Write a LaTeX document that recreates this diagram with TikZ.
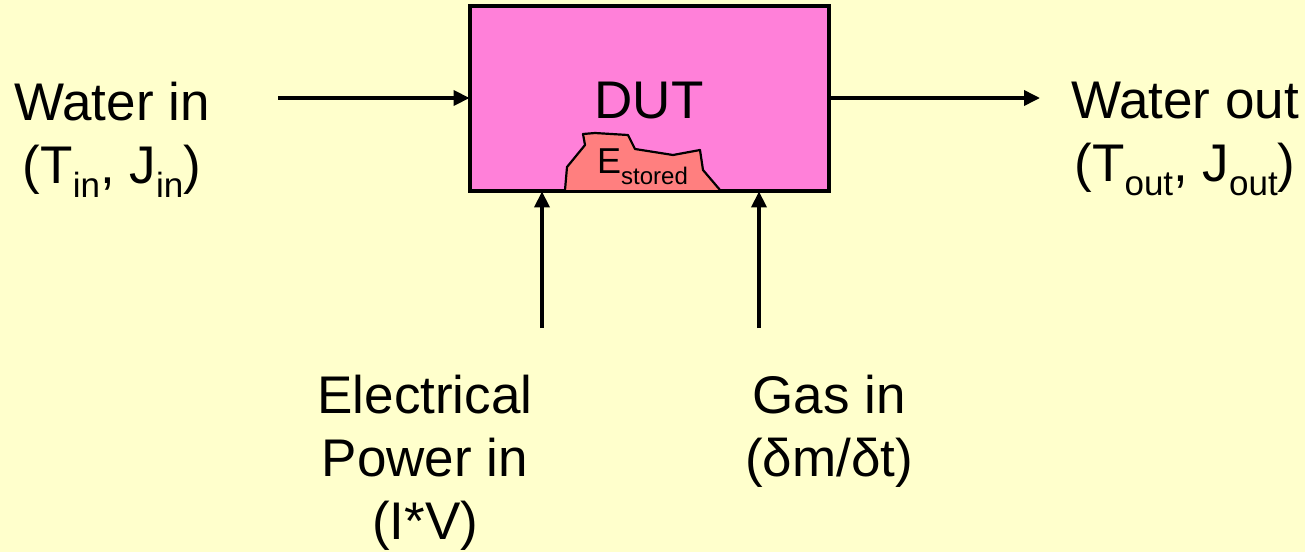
\documentclass[tikz,border=0pt]{standalone}
\usepackage{fontspec}
\setmainfont{Liberation Sans}
\usetikzlibrary{arrows.meta}
\definecolor{bgyellow}{RGB}{255,255,204}
\definecolor{dutpink}{RGB}{255,128,217}
\definecolor{blobred}{RGB}{255,127,127}
\newcommand{\lowsub}[1]{\raisebox{-14pt}{\fontsize{35}{35}\selectfont #1}}
\newcommand{\esub}[1]{\raisebox{-11pt}{\fontsize{24}{24}\selectfont #1}}
\begin{document}
\begin{tikzpicture}[x=1pt,y=-1pt,
  bigtext/.style={font=\fontsize{53}{63}\selectfont, align=center, inner sep=0pt, anchor=north},
  flow/.style={line width=3.6pt, -{Triangle[length=16pt,width=15pt]}},
  boxstyle/.style={draw=black, line width=2.8pt, minimum width=357pt, minimum height=183pt, inner sep=0pt}]
\fill[bgyellow] (0,0) rectangle (1305,552);
\useasboundingbox (0,0) rectangle (1305,552);

\node[boxstyle, fill=dutpink] (dut) at (649.5,98.5) {};
\node[font=\fontsize{53}{63}\selectfont, inner sep=0pt, anchor=base] (dutlabel) at (649,118) {DUT};

\path[fill=blobred, draw=black, line width=2.2pt, line join=round]
  (565,190) -- (567,167) -- (585,145) -- (583,134) -- (595,133) -- (628,135) -- (635,149)
  -- (673,155) -- (700,150) -- (703,170) -- (720,190);
\node[font=\fontsize{36}{36}\selectfont, inner sep=0pt, anchor=base west] (estored) at (597,173) {E\esub{stored}};
\draw[line width=2.8pt] (dut.south west) rectangle (dut.north east);

\node[bigtext] (win) at (112,82) {Water in\\(T\lowsub{in}, J\lowsub{in})};
\node[bigtext] (wout) at (1185,82) {Water out\\(T\lowsub{out}, J\lowsub{out})};
\node[bigtext] (elec) at (425,375) {Electrical\\Power in\\(I*V)};
\node[bigtext] (gas) at (829,375) {Gas in\\(δm/δt)};

\coordinate (winstart) at (278,98);
\coordinate (woutend) at (1040,98);
\coordinate (elecstart) at (542,328);
\coordinate (gasstart) at (759,328);

\draw[flow] (winstart) -- (winstart -| dut.west);
\draw[flow] (woutend -| dut.east) -- (woutend);
\draw[flow] (elecstart) -- (elecstart |- dut.south);
\draw[flow] (gasstart) -- (gasstart |- dut.south);
\end{tikzpicture}
\end{document}
